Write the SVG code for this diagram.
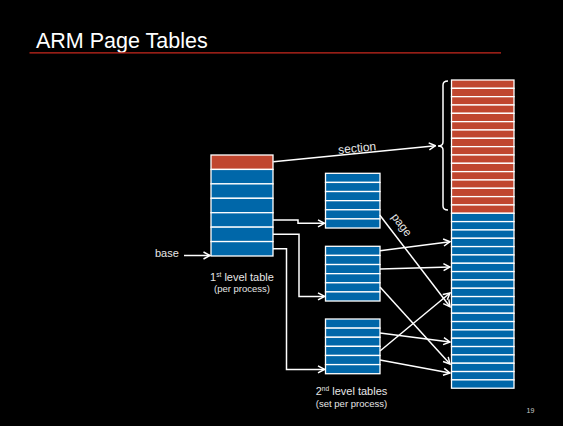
<svg xmlns="http://www.w3.org/2000/svg" width="563" height="426" viewBox="0 0 563 426">
<defs>
<marker id="ah" markerUnits="userSpaceOnUse" markerWidth="10" markerHeight="10" viewBox="0 0 10 10" refX="9" refY="5" orient="auto">
<path d="M2.5,1.5 L9,5 L2.5,8.5" fill="none" stroke="#ffffff" stroke-width="1.5" stroke-linejoin="miter"/>
</marker>
</defs>
<style>
.r{fill:#c0462f;stroke:#ffffff;stroke-width:1.3}
.b{fill:#0067a9;stroke:#ffffff;stroke-width:1.3}
.c{fill:none;stroke:#ffffff;stroke-width:1.5;marker-end:url(#ah)}
.t{font-family:"Liberation Sans",Arial,sans-serif;fill:#e6e6e6}
</style>
<rect x="0" y="0" width="563" height="426" fill="#000000"/>
<g id="title">
<text class="t" x="36" y="47.5" font-size="21.5" fill="#ffffff" style="fill:#ffffff">ARM Page Tables</text>
<line x1="29.5" y1="52.8" x2="501" y2="52.8" stroke="#c8281e" stroke-width="1.2"/>
</g>
<g id="first-level-table">
<rect class="r" x="211" y="155" width="62" height="14.43"/>
<rect class="b" x="211" y="169.43" width="62" height="14.43"/>
<rect class="b" x="211" y="183.86" width="62" height="14.43"/>
<rect class="b" x="211" y="198.29" width="62" height="14.43"/>
<rect class="b" x="211" y="212.71" width="62" height="14.43"/>
<rect class="b" x="211" y="227.14" width="62" height="14.43"/>
<rect class="b" x="211" y="241.57" width="62" height="14.43"/>
<text class="t" x="242" y="280.7" font-size="11" text-anchor="middle">1<tspan font-size="6.6" dy="-4">st</tspan><tspan dy="4"> level table</tspan></text>
<text class="t" x="242" y="291.7" font-size="9.5" text-anchor="middle">(per process)</text>
</g>
<g id="base-label">
<text class="t" x="155" y="257.3" font-size="11">base</text>
</g>
<g id="second-level-table-a">
<rect class="b" x="325.5" y="173.3" width="54.5" height="9.12"/>
<rect class="b" x="325.5" y="182.42" width="54.5" height="9.12"/>
<rect class="b" x="325.5" y="191.54" width="54.5" height="9.12"/>
<rect class="b" x="325.5" y="200.66" width="54.5" height="9.12"/>
<rect class="b" x="325.5" y="209.78" width="54.5" height="9.12"/>
<rect class="b" x="325.5" y="218.9" width="54.5" height="9.12"/>
</g>
<g id="second-level-table-b">
<rect class="b" x="325.5" y="246.3" width="54.5" height="9.12"/>
<rect class="b" x="325.5" y="255.42" width="54.5" height="9.12"/>
<rect class="b" x="325.5" y="264.54" width="54.5" height="9.12"/>
<rect class="b" x="325.5" y="273.66" width="54.5" height="9.12"/>
<rect class="b" x="325.5" y="282.78" width="54.5" height="9.12"/>
<rect class="b" x="325.5" y="291.9" width="54.5" height="9.12"/>
</g>
<g id="second-level-table-c">
<rect class="b" x="325.5" y="319" width="54.5" height="9.12"/>
<rect class="b" x="325.5" y="328.12" width="54.5" height="9.12"/>
<rect class="b" x="325.5" y="337.24" width="54.5" height="9.12"/>
<rect class="b" x="325.5" y="346.36" width="54.5" height="9.12"/>
<rect class="b" x="325.5" y="355.48" width="54.5" height="9.12"/>
<rect class="b" x="325.5" y="364.6" width="54.5" height="9.12"/>
<text class="t" x="351.5" y="395" font-size="11" text-anchor="middle">2<tspan font-size="6.6" dy="-4">nd</tspan><tspan dy="4"> level tables</tspan></text>
<text class="t" x="351.5" y="406.7" font-size="9.5" text-anchor="middle">(set per process)</text>
</g>
<g id="physical-memory">
<rect class="r" x="451.5" y="80" width="62.5" height="8.33"/>
<rect class="r" x="451.5" y="88.33" width="62.5" height="8.33"/>
<rect class="r" x="451.5" y="96.66" width="62.5" height="8.33"/>
<rect class="r" x="451.5" y="104.99" width="62.5" height="8.33"/>
<rect class="r" x="451.5" y="113.32" width="62.5" height="8.33"/>
<rect class="r" x="451.5" y="121.65" width="62.5" height="8.33"/>
<rect class="r" x="451.5" y="129.98" width="62.5" height="8.33"/>
<rect class="r" x="451.5" y="138.31" width="62.5" height="8.33"/>
<rect class="r" x="451.5" y="146.64" width="62.5" height="8.33"/>
<rect class="r" x="451.5" y="154.97" width="62.5" height="8.33"/>
<rect class="r" x="451.5" y="163.3" width="62.5" height="8.33"/>
<rect class="r" x="451.5" y="171.63" width="62.5" height="8.33"/>
<rect class="r" x="451.5" y="179.96" width="62.5" height="8.33"/>
<rect class="r" x="451.5" y="188.29" width="62.5" height="8.33"/>
<rect class="r" x="451.5" y="196.62" width="62.5" height="8.33"/>
<rect class="r" x="451.5" y="204.95" width="62.5" height="8.33"/>
<rect class="b" x="451.5" y="213.28" width="62.5" height="8.33"/>
<rect class="b" x="451.5" y="221.61" width="62.5" height="8.33"/>
<rect class="b" x="451.5" y="229.94" width="62.5" height="8.33"/>
<rect class="b" x="451.5" y="238.27" width="62.5" height="8.33"/>
<rect class="b" x="451.5" y="246.6" width="62.5" height="8.33"/>
<rect class="b" x="451.5" y="254.93" width="62.5" height="8.33"/>
<rect class="b" x="451.5" y="263.26" width="62.5" height="8.33"/>
<rect class="b" x="451.5" y="271.59" width="62.5" height="8.33"/>
<rect class="b" x="451.5" y="279.92" width="62.5" height="8.33"/>
<rect class="b" x="451.5" y="288.25" width="62.5" height="8.33"/>
<rect class="b" x="451.5" y="296.58" width="62.5" height="8.33"/>
<rect class="b" x="451.5" y="304.91" width="62.5" height="8.33"/>
<rect class="b" x="451.5" y="313.24" width="62.5" height="8.33"/>
<rect class="b" x="451.5" y="321.57" width="62.5" height="8.33"/>
<rect class="b" x="451.5" y="329.9" width="62.5" height="8.33"/>
<rect class="b" x="451.5" y="338.23" width="62.5" height="8.33"/>
<rect class="b" x="451.5" y="346.56" width="62.5" height="8.33"/>
<rect class="b" x="451.5" y="354.89" width="62.5" height="8.33"/>
<rect class="b" x="451.5" y="363.22" width="62.5" height="8.33"/>
<rect class="b" x="451.5" y="371.55" width="62.5" height="8.33"/>
<rect class="b" x="451.5" y="379.88" width="62.5" height="8.33"/>
<path d="M448,81 Q443,81 443,85 L443,142 Q443,146 438,146 Q443,146 443,150 L443,206 Q443,210 448,210" fill="none" stroke="#ffffff" stroke-width="1.5"/>
</g>
<g id="connectors">
<path class="c" d="M184,255.5 L210,255.5"/>
<path class="c" d="M273.3,161.7 L435.5,145.7"/>
<path class="c" d="M273,220 H298 V223.3 H324.5"/>
<path class="c" d="M273,234.3 H299 V296.4 H324.5"/>
<path class="c" d="M273,248.8 H286.5 V369.4 H324.5"/>
<path class="c" d="M379.7,215 L450,306.7"/>
<path class="c" d="M380,250.7 L450,241.7"/>
<path class="c" d="M380,269 L450,267"/>
<path class="c" d="M380,287 L450,364"/>
<path class="c" d="M380,333 L450,342"/>
<path class="c" d="M380,351 L450,293"/>
<path class="c" d="M380,360 L450,373"/>
<text class="t" font-size="12" text-anchor="middle" transform="translate(357.5,152) rotate(-5.7)">section</text>
<text class="t" font-size="11.5" text-anchor="middle" transform="translate(398.7,227.1) rotate(52.5)">page</text>
</g>
<text class="t" x="530.5" y="413.3" font-size="7" text-anchor="middle" style="fill:#cccccc">19</text>
</svg>
